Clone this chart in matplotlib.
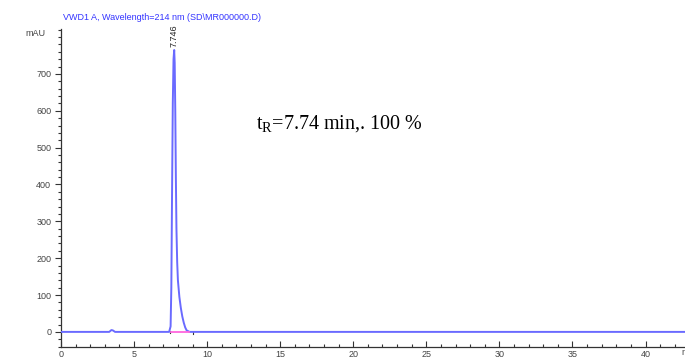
import matplotlib.pyplot as plt
from matplotlib.ticker import MultipleLocator

# chromatogram trace (time in min, signal in mAU)
time = [0.0, 3.3, 3.45, 3.55, 3.7, 7.40, 7.50, 7.55, 7.60, 7.65, 7.70, 7.746,
        7.78, 7.82, 7.86, 7.90, 7.95, 8.00, 8.10, 8.20, 8.30, 8.40, 8.50,
        8.60, 8.80, 42.7]
signal = [0, 0, 5, 4, 0, 0, 15, 120, 380, 620, 740, 765,
          730, 600, 420, 280, 190, 140, 95, 65, 42, 25, 12,
          4, 0, 0]

peak_rt = 7.746
peak_height = 765
baseline_start, baseline_end = 7.45, 9.05
pink_start, pink_end = 7.5, 8.75

title = "VWD1 A, Wavelength=214 nm (SD\\MR000000.D)"
note = "t$_\\mathregular{R}$=7.74 min,. 100 %"

plt.rcParams['font.family'] = ['Liberation Sans', 'DejaVu Sans']

fig = plt.figure(figsize=(6.85, 3.6), dpi=100)
ax = fig.add_axes([61 / 685, 13 / 360, 624 / 685, 318 / 360])

ax.plot(time, signal, color='#6a6aff', lw=1.4, zorder=3)
ax.plot([pink_start, pink_end], [0, 0], color='#ff66dd', lw=1.3, zorder=4)
ax.plot([baseline_start, baseline_start], [-4, 3], color='#333333', lw=0.8)
ax.plot([baseline_end, baseline_end], [-6, 0], color='#333333', lw=0.8)

ax.text(peak_rt, peak_height + 8, "7.746", rotation=90, ha='center', va='bottom',
        fontsize=6.5, color='#222222')
ax.text(13.35, 553, note, fontsize=14.5, family=['Liberation Serif', 'DejaVu Serif'],
        color='black', va='baseline')

ax.set_xlim(0, 42.7)
ax.set_ylim(-41, 822)
ax.xaxis.set_major_locator(MultipleLocator(5))
ax.xaxis.set_minor_locator(MultipleLocator(1))
ax.yaxis.set_major_locator(MultipleLocator(100))
ax.yaxis.set_minor_locator(MultipleLocator(20))
ax.set_yticks([0, 100, 200, 300, 400, 500, 600, 700])

for s in ['top', 'right']:
    ax.spines[s].set_visible(False)
for s in ['left', 'bottom']:
    ax.spines[s].set_color('#333333')
    ax.spines[s].set_linewidth(0.9)

ax.tick_params(axis='both', which='major', labelsize=6.5, labelcolor='#444444',
               color='#333333', width=0.8, length=4)
ax.tick_params(axis='both', which='minor', color='#333333', width=0.8, length=2)
ax.tick_params(axis='x', which='both', direction='in', pad=2)
ax.tick_params(axis='y', which='both', direction='out', pad=3)

fig.text(63 / 685, 1 - 17 / 360, title, fontsize=6.5, color='#3333ff', va='center')
fig.text(25 / 685, 1 - 33 / 360, "mAU", fontsize=6.5, color='#444444', va='center')
fig.text(681 / 685, 3 / 360, "min", fontsize=6.5, color='#444444', va='bottom')

fig.savefig('out.png', dpi=100)
